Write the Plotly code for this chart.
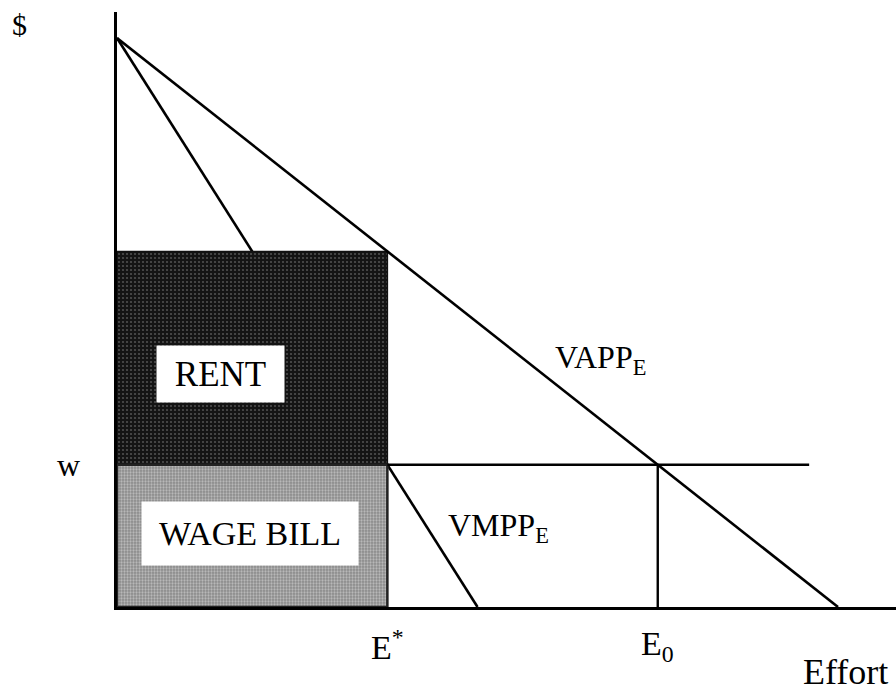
import plotly.graph_objects as go

# ---- data (economic diagram values) ----
vapp_effort = [0, 100]      # VAPP_E line: effort endpoints
vapp_value = [100, 0]       # VAPP_E line: $ values
vmpp_effort = [0, 50]       # VMPP_E line
vmpp_value = [100, 0]
wage = 25                   # w
e_star = 37.5               # E*
e_zero = 75                 # E0
rent_top = 62.5             # VAPP at E*
wage_line_end = 96          # extent of the wage line

FONT = "Liberation Serif, Times New Roman, serif"
ink = "black"
XMAX = 779 / 7.21
YMAX = 595 / 5.69

fig = go.Figure()

# VMPP (drawn first, partly hidden by the boxes)
fig.add_trace(go.Scatter(x=vmpp_effort, y=vmpp_value, mode="lines",
                         line=dict(color=ink, width=2.6), hoverinfo="skip"))

# Rent area
fig.add_trace(go.Scatter(
    x=[0, e_star, e_star, 0, 0], y=[wage, wage, rent_top, rent_top, wage],
    mode="lines", fill="toself", line=dict(color="#111111", width=1.5),
    fillcolor="#151515",
    fillpattern=dict(shape=".", bgcolor="#141414", fgcolor="#8a8a8a",
                     size=4, solidity=0.22, fillmode="overlay"),
    hoverinfo="skip"))

# Wage bill area
fig.add_trace(go.Scatter(
    x=[0, e_star, e_star, 0, 0], y=[0, 0, wage, wage, 0],
    mode="lines", fill="toself", line=dict(color="#222222", width=2.5),
    fillcolor="#9c9c9c",
    fillpattern=dict(shape=".", bgcolor="#8a8a8a", fgcolor="#e6e6e6",
                     size=3, solidity=0.45, fillmode="overlay"),
    hoverinfo="skip"))

# VAPP
fig.add_trace(go.Scatter(x=vapp_effort, y=vapp_value, mode="lines",
                         line=dict(color=ink, width=2.6), hoverinfo="skip"))
# wage line
fig.add_trace(go.Scatter(x=[e_star, wage_line_end], y=[wage, wage], mode="lines",
                         line=dict(color=ink, width=2.4), hoverinfo="skip"))
# E0 drop line
fig.add_trace(go.Scatter(x=[e_zero, e_zero], y=[wage, 0], mode="lines",
                         line=dict(color=ink, width=2.4), hoverinfo="skip"))

def ann(text, x, y, size, xanchor="center", yanchor="middle", **kw):
    fig.add_annotation(text=text, x=x, y=y, xref="paper", yref="paper",
                       showarrow=False, xanchor=xanchor, yanchor=yanchor,
                       font=dict(family=FONT, size=size, color=ink), **kw)

def px_x(p):  # page px -> paper x
    return (p - 117) / 779

def px_y(p):  # page px -> paper y
    return (607 - p) / 595

# boxed labels
ann("RENT", px_x(220.5), px_y(374), 35, bgcolor="white", width=127, height=56, borderpad=0)
ann("WAGE BILL", px_x(250), px_y(533.5), 34, bgcolor="white", width=216, height=63, borderpad=0)

# curve labels
ann("VAPP<sub>E</sub>", px_x(553), px_y(360), 32, xanchor="left")
ann("VMPP<sub>E</sub>", px_x(446), px_y(527), 32, xanchor="left")

# axis labels
ann("$", px_x(19), px_y(24), 30)
ann("w", px_x(68), wage / YMAX, 32)
ann("E<sup>*</sup>", e_star / XMAX, px_y(645), 34)
ann("E<sub>0</sub>", e_zero / XMAX, px_y(646), 34)
ann("Effort", px_x(845), px_y(672), 36)

fig.update_layout(
    width=896, height=696,
    margin=dict(l=117, r=0, t=12, b=89),
    paper_bgcolor="white", plot_bgcolor="white",
    showlegend=False,
    xaxis=dict(range=[0, XMAX], showgrid=False, zeroline=False,
               showticklabels=False, ticks="", showline=True,
               linecolor=ink, linewidth=3, fixedrange=True),
    yaxis=dict(range=[0, YMAX], showgrid=False, zeroline=False,
               showticklabels=False, ticks="", showline=True,
               linecolor=ink, linewidth=3, fixedrange=True),
)

fig.write_html("out.html",
               config={"displayModeBar": False},
               post_script="document.body.style.margin='0';"
                           "document.body.style.overflow='hidden';")
